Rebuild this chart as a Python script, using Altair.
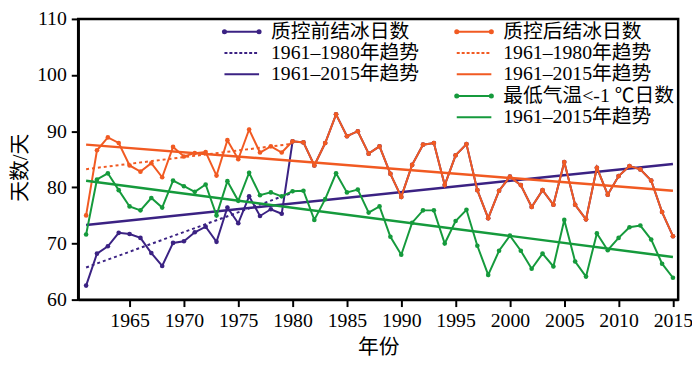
import altair as alt
import pandas as pd

# ---------------- data ----------------
years = list(range(1961, 2016))

# 质控前结冰日数 1961-1979 (from 1980 on identical to post-QC series)
pre_qc_1961_1979 = [62.5, 68.2, 69.5, 71.9, 71.7, 71.0, 68.3, 66.0, 70.1, 70.4,
                    72.0, 73.0, 70.3, 76.4, 73.6, 78.4, 74.9, 76.1, 75.3]

# 质控后结冰日数 1961-2015
post_qc = [75.0, 86.6, 88.9, 87.9, 83.9, 82.8, 84.3, 81.8, 87.2, 85.5,
           86.1, 86.3, 82.1, 88.4, 85.0, 90.3, 86.2, 87.3, 86.2, 88.2,
           88.0, 83.9, 87.9, 93.0, 89.1, 90.0, 86.0, 87.3, 82.4, 78.3,
           84.0, 87.6, 87.9, 80.4, 85.7, 87.7, 79.5, 74.5, 79.4, 81.9,
           80.4, 76.5, 79.5, 76.9, 84.5, 76.9, 74.3, 83.5, 78.7, 82.0,
           83.8, 83.2, 81.2, 75.6, 71.3]

# 最低气温<-1 ℃日数 1961-2015
tmin_days = [71.6, 81.4, 82.5, 79.5, 76.6, 75.9, 78.1, 76.4, 81.2, 80.2,
             79.2, 80.5, 75.0, 81.1, 77.6, 82.6, 78.6, 79.1, 78.4, 79.3,
             79.4, 74.2, 77.9, 82.5, 79.1, 79.6, 75.5, 76.6, 71.2, 68.0,
             73.7, 75.9, 75.9, 70.0, 74.0, 76.0, 69.6, 64.4, 68.7, 71.4,
             68.7, 65.5, 68.2, 65.9, 74.2, 66.8, 64.1, 71.8, 68.8, 71.0,
             72.9, 73.2, 70.7, 66.4, 63.9]

pre_qc = pre_qc_1961_1979 + post_qc[19:]

x_ticks = [1965, 1970, 1975, 1980, 1985, 1990, 1995, 2000, 2005, 2010, 2015]
y_ticks = [60, 70, 80, 90, 100, 110]

legend_labels = ["质控前结冰日数", "1961–1980年趋势", "1961–2015年趋势",
                 "质控后结冰日数", "1961–1980年趋势", "1961–2015年趋势",
                 "最低气温<-1 ℃日数", "1961–2015年趋势"]
legend_kind = ["series", "dotted", "solid", "series", "dotted", "solid", "series", "solid"]
legend_color = ["#3b2283", "#3b2283", "#3b2283", "#f15a22", "#f15a22", "#f15a22",
                "#159a3c", "#159a3c"]
legend_col = [0, 0, 0, 1, 1, 1, 1, 1]
legend_row = [0, 1, 2, 0, 1, 2, 3, 4]

PURPLE = "#3b2283"
ORANGE = "#f15a22"
GREEN = "#159a3c"
SERIF = "Liberation Serif, Times New Roman, serif"
FONT = "Liberation Serif, Times New Roman, Noto Sans CJK SC, serif"

df = pd.DataFrame({
    "year": years * 3,
    "value": pre_qc + post_qc + tmin_days,
    "series": ["pre"] * 55 + ["post"] * 55 + ["tmin"] * 55,
})

# legend table (pixel positions inside plot area)
col_x0 = [148, 383]
row_y = [13, 34.5, 56, 78, 99.5]
leg = pd.DataFrame({
    "label": legend_labels,
    "kind": legend_kind,
    "color": legend_color,
    "x0": [col_x0[c] for c in legend_col],
    "x1": [col_x0[c] + 35 for c in legend_col],
    "tx": [col_x0[c] + 47 for c in legend_col],
    "y": [row_y[r] for r in legend_row],
})

xs = alt.Scale(domain=[1960.27, 2015.48], nice=False, zero=False)
ys = alt.Scale(domain=[60, 110], nice=False, zero=False)

X = alt.X("year:Q", scale=xs, title="年份",
          axis=alt.Axis(values=x_ticks, format="d", grid=False))
Y = alt.Y("value:Q", scale=ys, title="天数/天",
          axis=alt.Axis(values=y_ticks, grid=False))

base = alt.Chart(df)


def series(key, color):
    return base.transform_filter(alt.datum.series == key).mark_line(
        color=color, strokeWidth=2,
        point=alt.OverlayMarkDef(filled=True, size=22, color=color, opacity=1),
    ).encode(x=X, y=Y)


def trend(key, color, start, end, dash=None):
    src = base.transform_filter(
        (alt.datum.series == key) & (alt.datum.year >= start) & (alt.datum.year <= end)
    ).transform_regression("year", "value", extent=[start, end])
    kw = dict(color=color, strokeWidth=2.5)
    if dash:
        kw["strokeDash"] = dash
        kw["strokeWidth"] = 2
    return src.mark_line(**kw).encode(x=X, y=Y)


lbase = alt.Chart(leg)
LX0 = alt.X("x0:Q", scale=None, axis=None)
LX1 = alt.X2("x1:Q")
LY = alt.Y("y:Q", scale=None, axis=None)
LC = alt.Color("color:N", scale=None, legend=None)

leg_solid = lbase.transform_filter(alt.datum.kind != "dotted").mark_rule(strokeWidth=2).encode(
    x=LX0, x2=LX1, y=LY, color=LC)
leg_dotted = lbase.transform_filter(alt.datum.kind == "dotted").mark_rule(
    strokeWidth=2, strokeDash=[3, 2]).encode(x=LX0, x2=LX1, y=LY, color=LC)
leg_pts0 = lbase.transform_filter(alt.datum.kind == "series").mark_point(
    filled=True, size=26, opacity=1).encode(x=LX0, y=LY, color=LC)
leg_pts1 = lbase.transform_filter(alt.datum.kind == "series").mark_point(
    filled=True, size=26, opacity=1).encode(
    x=alt.X("x1:Q", scale=None, axis=None), y=LY, color=LC)
leg_text = lbase.mark_text(align="left", baseline="middle", font=FONT, fontSize=20,
                           color="black").encode(
    x=alt.X("tx:Q", scale=None, axis=None), y=LY, text="label:N")

chart = alt.layer(
    series("pre", PURPLE),
    trend("pre", PURPLE, 1961, 1980, dash=[3, 3]),
    trend("pre", PURPLE, 1961, 2015),
    series("post", ORANGE),
    trend("post", ORANGE, 1961, 1980, dash=[3, 3]),
    trend("post", ORANGE, 1961, 2015),
    series("tmin", GREEN),
    trend("tmin", GREEN, 1961, 2015),
    leg_solid, leg_dotted, leg_pts0, leg_pts1, leg_text,
).properties(
    width=607, height=284,
    padding={"left": 71, "top": 9, "right": 14, "bottom": 57},
    autosize=alt.AutoSizeParams(type="none"),
).configure_view(
    stroke="black", strokeWidth=2.5
).configure_axis(
    domainColor="black", domainWidth=2.5, tickColor="black", tickWidth=2,
    tickSize=7, labelFont=SERIF, labelFontSize=20, labelColor="black",
    titleFont=FONT, titleFontSize=21, titleColor="black", titleFontWeight="normal",
).configure_axisX(
    labelPadding=4, titleY=48, titleBaseline="middle",
).configure_axisY(
    labelPadding=5, titleX=-58, titleY=150, titleAngle=-90,
    titleBaseline="middle", titleAlign="center",
)

chart.save("out.html", embed_options={"renderer": "svg", "actions": False})
